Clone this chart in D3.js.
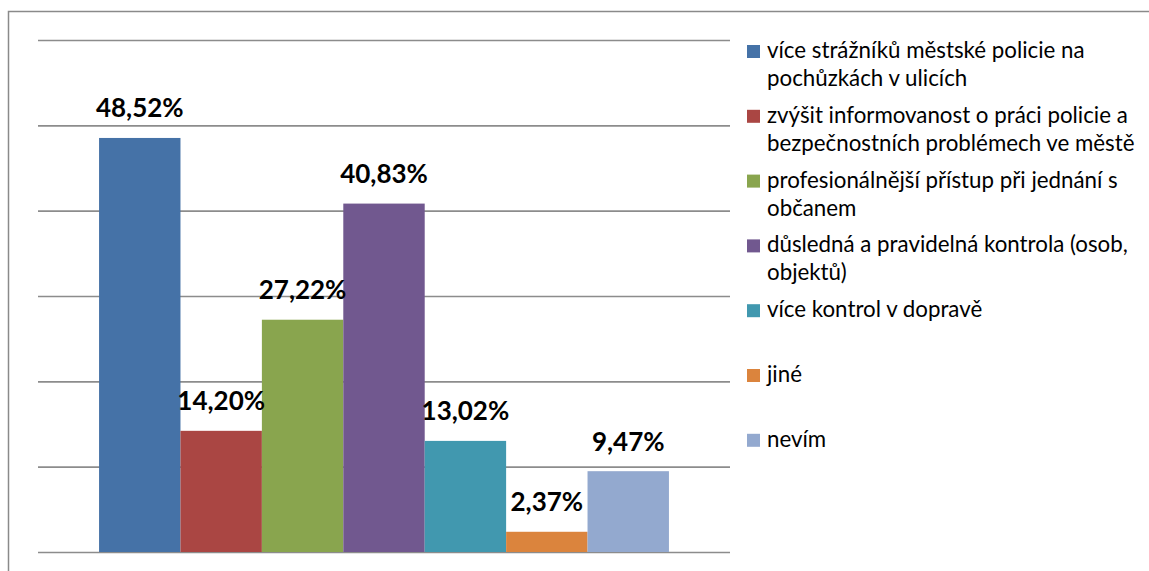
<!DOCTYPE html>
<html>
<head>
<meta charset="utf-8">
<script src="https://cdn.jsdelivr.net/npm/d3@7"></script>
<style>
  html, body { margin: 0; padding: 0; background: #fff; }
  svg { display: block; }
</style>
</head>
<body>
<svg id="chart" width="1149" height="571"></svg>
<script>
const categories = [
  "více strážníků městské policie na\npochůzkách v ulicích",
  "zvýšit informovanost o práci policie a\nbezpečnostních problémech ve městě",
  "profesionálnější přístup při jednání s\nobčanem",
  "důsledná a pravidelná kontrola (osob,\nobjektů)",
  "více kontrol v dopravě",
  "jiné",
  "nevím"
];
const values = [48.52, 14.20, 27.22, 40.83, 13.02, 2.37, 9.47];
const valueLabels = ["48,52%", "14,20%", "27,22%", "40,83%", "13,02%", "2,37%", "9,47%"];
const yTicks = [0, 10, 20, 30, 40, 50, 60];
const colors = ["#4572A7", "#AA4643", "#89A54E", "#71588F", "#4198AF", "#DB843D", "#93A9CF"];

const svg = d3.select("#chart");

// outer frame (top and left edges visible)
svg.append("path")
  .attr("d", "M8.5,571 L8.5,11.5 L1149,11.5")
  .attr("fill", "none")
  .attr("stroke", "#8a8a8a")
  .attr("stroke-width", 1.5);

const plotLeft = 38, plotRight = 730, plotTop = 40, plotBottom = 552;

const y = d3.scaleLinear().domain([0, 60]).range([plotBottom, plotTop]);
const x = d3.scaleBand()
  .domain(d3.range(categories.length))
  .range([plotLeft, plotRight])
  .paddingInner(0)
  .paddingOuter(0.75);

// gridlines via axis
const yAxis = d3.axisLeft(y).tickValues(yTicks).tickSize(-(plotRight - plotLeft)).tickFormat("");
const g = svg.append("g").attr("transform", `translate(${plotLeft},0)`).call(yAxis);
g.select(".domain").remove();
g.selectAll(".tick line").attr("stroke", "#8c8c8c").attr("stroke-width", 1.6);

// bars
svg.append("g").selectAll("rect")
  .data(values)
  .join("rect")
  .attr("x", (d, i) => x(i))
  .attr("y", d => y(d))
  .attr("width", x.bandwidth())
  .attr("height", d => y(0) - y(d))
  .attr("fill", (d, i) => colors[i]);

// value labels
svg.append("g").selectAll("text")
  .data(values)
  .join("text")
  .attr("x", (d, i) => x(i) + x.bandwidth() / 2)
  .attr("y", d => y(d) - 20.5)
  .attr("text-anchor", "middle")
  .attr("font-family", "Lato, sans-serif")
  .attr("font-weight", "bold")
  .attr("font-size", 26)
  .attr("fill", "#000")
  .text((d, i) => valueLabels[i]);

// legend
const legend = svg.append("g");
const legX = 747, legBase0 = 58, legStep = 64.8, lineH = 28;
categories.forEach((c, i) => {
  const base = legBase0 + i * legStep;
  legend.append("rect")
    .attr("x", legX).attr("y", base - 13)
    .attr("width", 13).attr("height", 13)
    .attr("fill", colors[i]);
  const t = legend.append("text")
    .attr("x", legX + 20).attr("y", base)
    .attr("font-family", "Lato, sans-serif")
    .attr("font-size", 22.3)
    .attr("fill", "#000");
  c.split("\n").forEach((line, j) => {
    t.append("tspan").attr("x", legX + 20).attr("y", base + j * lineH).text(line);
  });
});
</script>
</body>
</html>
